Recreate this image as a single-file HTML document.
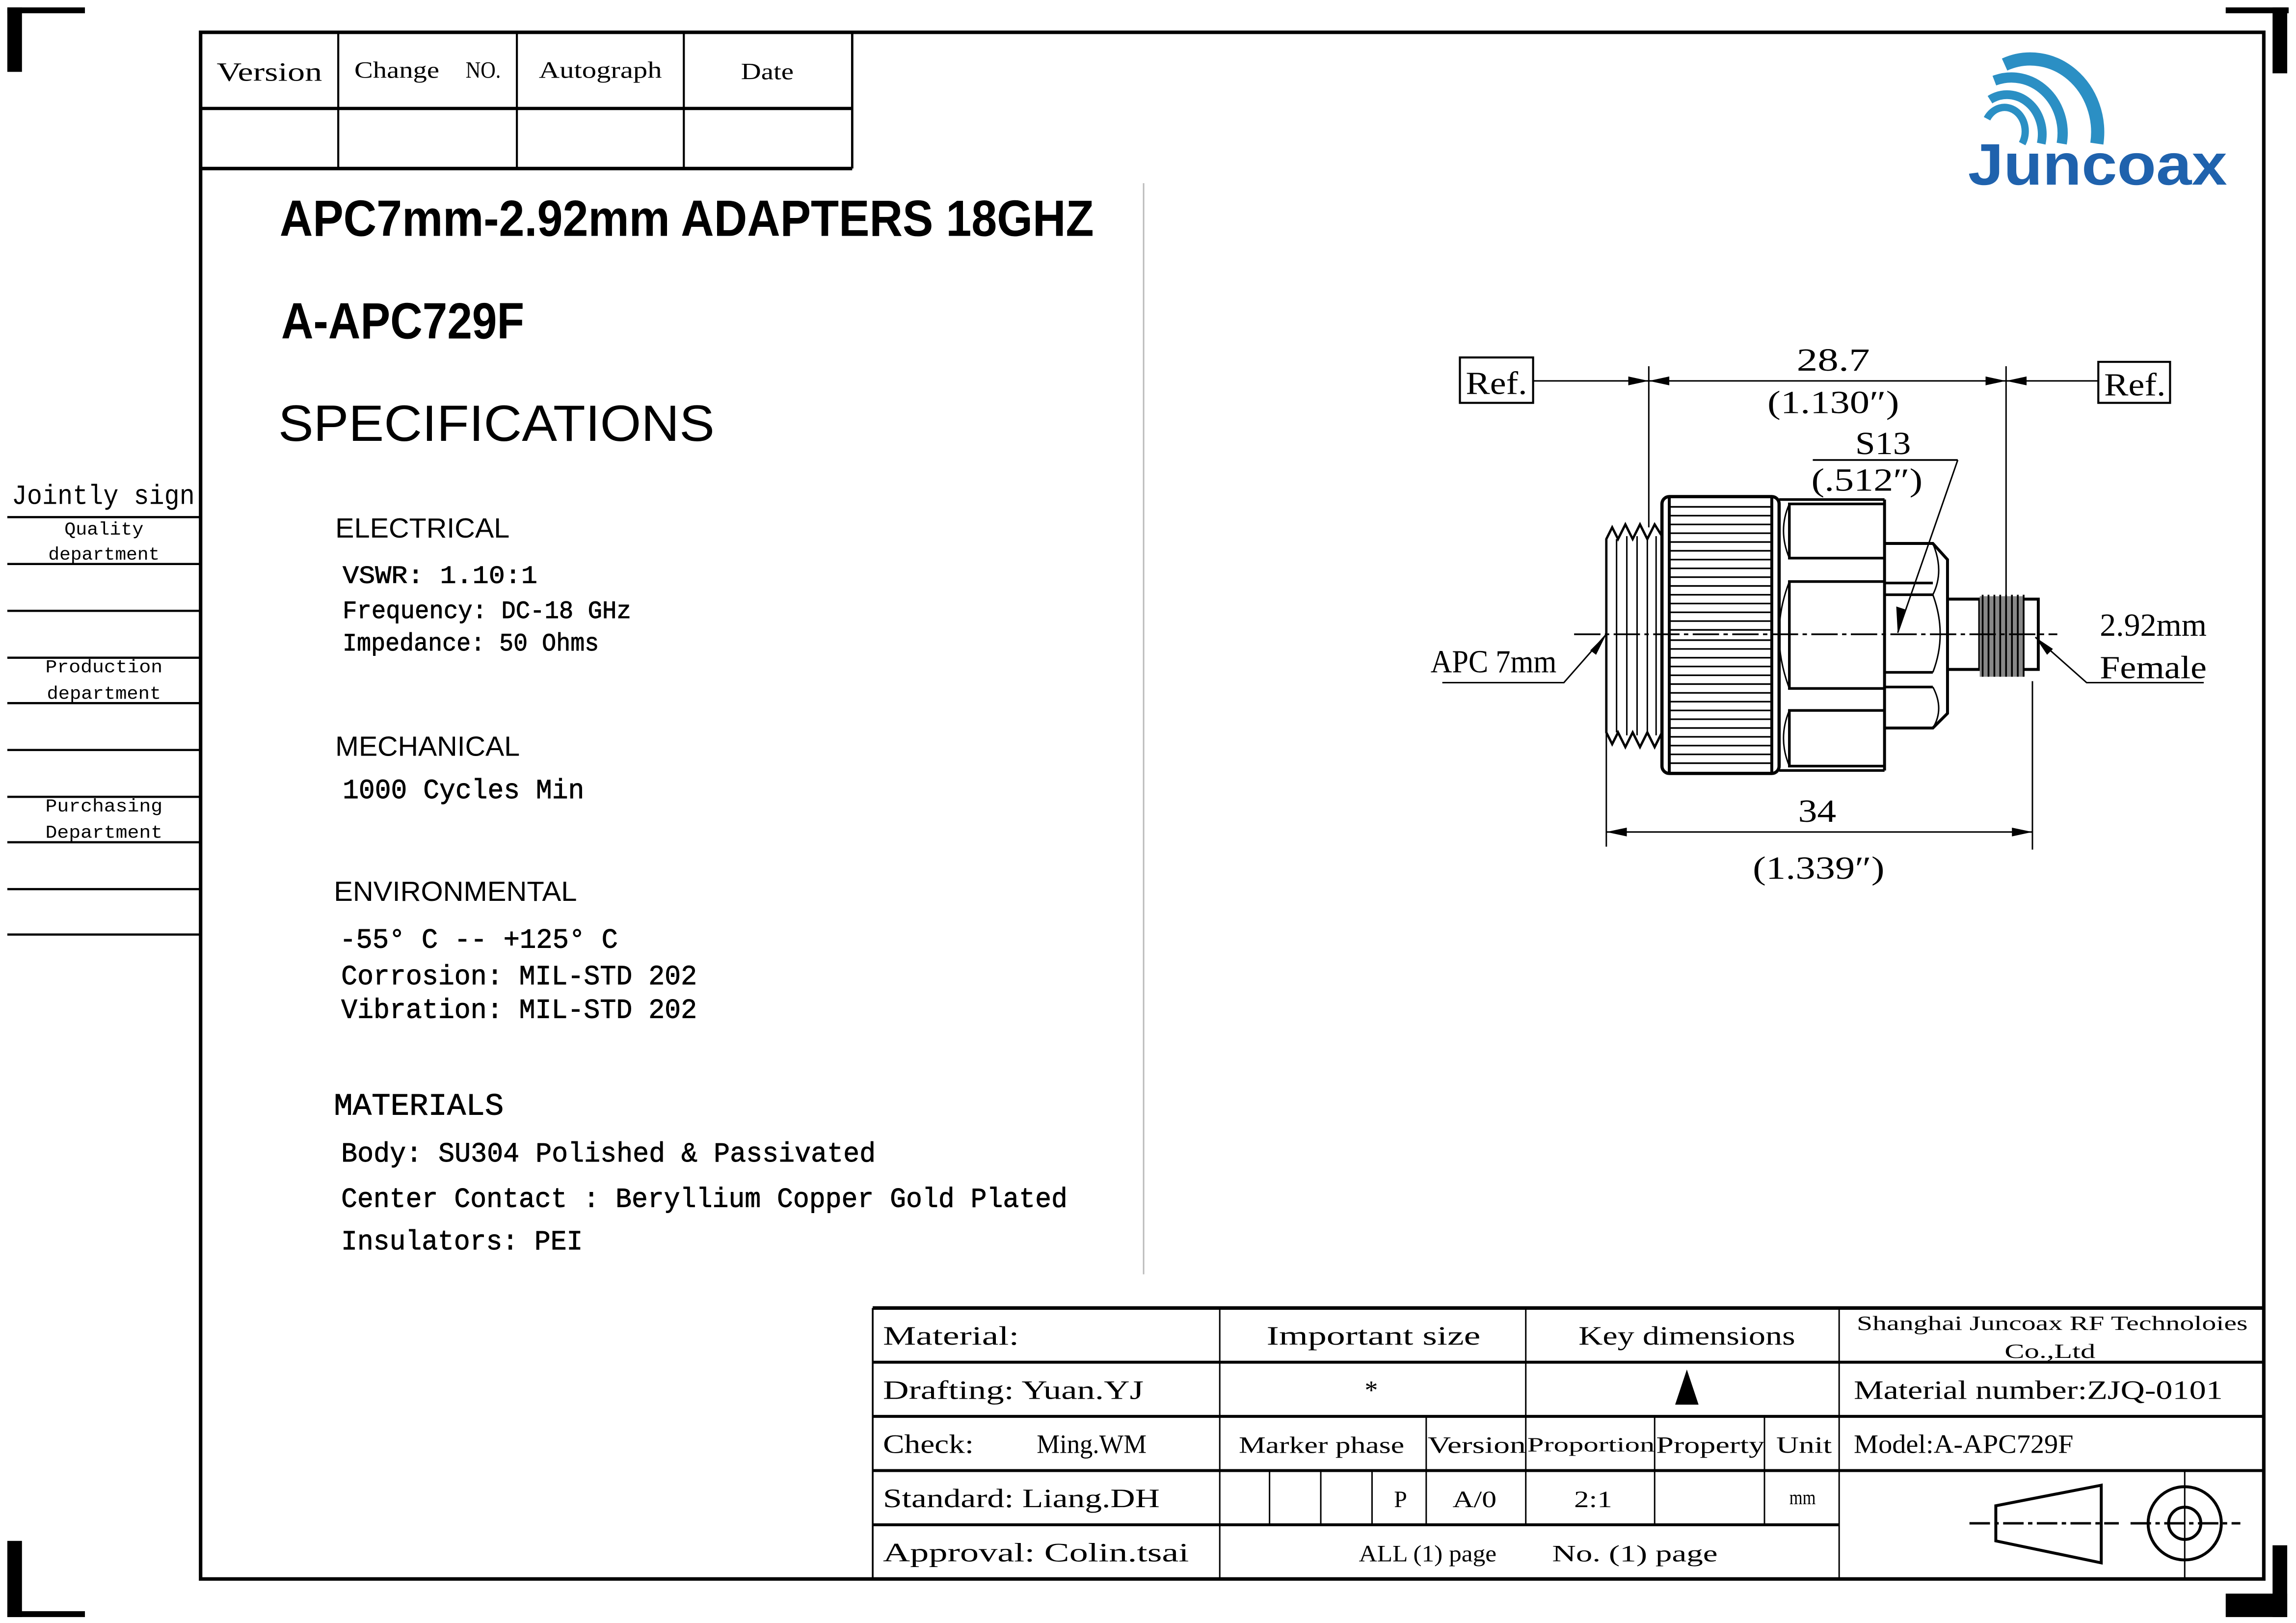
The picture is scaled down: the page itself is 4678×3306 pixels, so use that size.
<!DOCTYPE html>
<html><head><meta charset="utf-8"><style>
html,body{margin:0;padding:0;background:#fff;}
svg{display:block;}
.s{font-family:"Liberation Serif","Noto Serif CJK SC",serif;}
.m{font-family:"Liberation Mono","Noto Sans CJK SC",monospace;}
.a{font-family:"Liberation Sans","Noto Sans CJK SC",sans-serif;}
</style></head><body>
<svg width="4678" height="3306" viewBox="0 0 1568 1108" xmlns="http://www.w3.org/2000/svg">
<rect width="1568" height="1108" fill="#fff"/>
<g fill="#000">
<rect x="5" y="5" width="10" height="44"/><rect x="5" y="5" width="53" height="4"/>
<rect x="1520" y="5" width="43" height="4"/><rect x="1552" y="5" width="10" height="45"/>
<rect x="5" y="1052" width="10" height="52"/><rect x="5" y="1100" width="53" height="4"/>
<rect x="1552" y="1055" width="10" height="49"/><rect x="1520" y="1088" width="42" height="16"/>
</g>
<rect x="137" y="22" width="1409" height="1056" fill="none" stroke="#000" stroke-width="2.4"/>
<g stroke="#000" fill="none">
<line x1="137" y1="74" x2="582" y2="74" stroke-width="2.2"/>
<line x1="137" y1="115" x2="582" y2="115" stroke-width="2.4"/>
<line x1="582" y1="22" x2="582" y2="115" stroke-width="1.6"/>
<line x1="231" y1="22" x2="231" y2="115" stroke-width="1.4"/>
<line x1="353" y1="22" x2="353" y2="115" stroke-width="1.4"/>
<line x1="467" y1="22" x2="467" y2="115" stroke-width="1.4"/>
</g>
<g class="s" font-size="18" text-anchor="middle">
<text x="184" y="55" textLength="72" lengthAdjust="spacingAndGlyphs">Version</text>
<text x="271" y="53" textLength="58" lengthAdjust="spacingAndGlyphs" font-size="16">Change</text>
<text x="330" y="53" textLength="24" lengthAdjust="spacingAndGlyphs" font-size="16">NO.</text>
<text x="410" y="53" textLength="84" lengthAdjust="spacingAndGlyphs" font-size="16">Autograph</text>
<text x="524" y="54" textLength="36" lengthAdjust="spacingAndGlyphs" font-size="16">Date</text>
</g>
<text x="8" y="344" class="m" font-size="19" textLength="125" lengthAdjust="spacingAndGlyphs">Jointly sign</text>
<g stroke="#000" stroke-width="1.5">
<line x1="5" y1="353" x2="137" y2="353"/><line x1="5" y1="385" x2="137" y2="385"/>
<line x1="5" y1="417" x2="137" y2="417"/><line x1="5" y1="449" x2="137" y2="449"/>
<line x1="5" y1="480" x2="137" y2="480"/><line x1="5" y1="512" x2="137" y2="512"/>
<line x1="5" y1="544" x2="137" y2="544"/><line x1="5" y1="575" x2="137" y2="575"/>
<line x1="5" y1="607" x2="137" y2="607"/><line x1="5" y1="638" x2="137" y2="638"/>
</g>
<g class="m" font-size="12.5" text-anchor="middle">
<text x="71" y="365" textLength="54" lengthAdjust="spacingAndGlyphs">Quality</text>
<text x="71" y="382" textLength="76" lengthAdjust="spacingAndGlyphs">department</text>
<text x="71" y="459" textLength="80" lengthAdjust="spacingAndGlyphs">Production</text>
<text x="71" y="477" textLength="78" lengthAdjust="spacingAndGlyphs">department</text>
<text x="71" y="554" textLength="80" lengthAdjust="spacingAndGlyphs">Purchasing</text>
<text x="71" y="572" textLength="80" lengthAdjust="spacingAndGlyphs">Department</text>
</g>
<line x1="781" y1="125" x2="781" y2="870" stroke="#bbb" stroke-width="1"/>
<g class="a">
<text x="191" y="161" font-size="35" font-weight="bold" textLength="556" lengthAdjust="spacingAndGlyphs">APC7mm-2.92mm ADAPTERS  18GHZ</text>
<text x="192" y="231" font-size="35" font-weight="bold" textLength="166" lengthAdjust="spacingAndGlyphs">A-APC729F</text>
<text x="190" y="301" font-size="35" textLength="298" lengthAdjust="spacingAndGlyphs">SPECIFICATIONS</text>
<text x="229" y="367" font-size="19" textLength="119" lengthAdjust="spacingAndGlyphs">ELECTRICAL</text>
<text x="229" y="516" font-size="19" textLength="126" lengthAdjust="spacingAndGlyphs">MECHANICAL</text>
<text x="228" y="615" font-size="19" textLength="166" lengthAdjust="spacingAndGlyphs">ENVIRONMENTAL</text>
</g>
<g class="m" font-size="17" stroke="#000" stroke-width="0.3">
<text x="234" y="398" textLength="133" lengthAdjust="spacingAndGlyphs">VSWR:  1.10:1</text>
<text x="234" y="422" textLength="197" lengthAdjust="spacingAndGlyphs">Frequency: DC-18 GHz</text>
<text x="234" y="444" textLength="175" lengthAdjust="spacingAndGlyphs">Impedance: 50 Ohms</text>
<text x="234" y="545" font-size="19" textLength="165" lengthAdjust="spacingAndGlyphs">1000 Cycles Min</text>
<text x="232" y="647" font-size="19" textLength="190" lengthAdjust="spacingAndGlyphs">-55° C -- +125° C</text>
<text x="233" y="672" font-size="19" textLength="243" lengthAdjust="spacingAndGlyphs">Corrosion: MIL-STD 202</text>
<text x="233" y="695" font-size="19" textLength="243" lengthAdjust="spacingAndGlyphs">Vibration: MIL-STD 202</text>
<text x="228" y="761" font-size="21" textLength="116" lengthAdjust="spacingAndGlyphs">MATERIALS</text>
<text x="233" y="793" font-size="19" textLength="365" lengthAdjust="spacingAndGlyphs">Body: SU304 Polished &amp; Passivated</text>
<text x="233" y="824" font-size="19" textLength="496" lengthAdjust="spacingAndGlyphs">Center Contact : Beryllium Copper Gold Plated</text>
<text x="233" y="853" font-size="19" textLength="165" lengthAdjust="spacingAndGlyphs">Insulators: PEI</text>
</g>
<g fill="none" stroke="#2b8fc4" stroke-linecap="butt">
<path d="M1357 81 A13 15 0 0 1 1381 98" stroke-width="5"/>
<path d="M1359 68 A24 27 0 0 1 1394 98" stroke-width="6"/>
<path d="M1362 55 A35 38 0 0 1 1408 98" stroke-width="7"/>
<path d="M1369 44 A46 50 0 0 1 1432 98" stroke-width="9"/>
</g>
<text x="1344" y="126" class="a" font-weight="bold" font-size="40" fill="#1f62ad" textLength="177" lengthAdjust="spacingAndGlyphs">Juncoax</text>
<g stroke="#000" fill="none">
<rect x="997" y="244" width="50" height="31" stroke-width="1.4"/>
<rect x="1433" y="247" width="49" height="28" stroke-width="1.4"/>
<line x1="1047" y1="260" x2="1433" y2="260" stroke-width="1"/>
<line x1="1126" y1="250" x2="1126" y2="360" stroke-width="1"/>
<line x1="1370" y1="250" x2="1370" y2="410" stroke-width="1"/>
<line x1="1238" y1="314" x2="1337" y2="314" stroke-width="1.2"/>
<line x1="1337" y1="314" x2="1296" y2="432" stroke-width="1"/>
<line x1="1097" y1="500" x2="1097" y2="578" stroke-width="1"/>
<line x1="1388" y1="465" x2="1388" y2="580" stroke-width="1"/>
<line x1="1097" y1="568" x2="1388" y2="568" stroke-width="1"/>
<path d="M1097 368 L1101 360 L1105 368 L1110 358 L1115 368 L1120 358 L1125 368 L1130 358 L1135 366 L1135 500 L1130 510 L1125 500 L1120 510 L1115 500 L1110 510 L1105 500 L1101 508 L1097 500 Z" stroke-width="1.6"/>
<line x1="1104" y1="368" x2="1104" y2="500" stroke-width="1"/>
<line x1="1111" y1="366" x2="1111" y2="502" stroke-width="1"/>
<line x1="1118" y1="366" x2="1118" y2="502" stroke-width="1"/>
<line x1="1125" y1="366" x2="1125" y2="502" stroke-width="1"/>
<line x1="1131" y1="366" x2="1131" y2="502" stroke-width="1"/>
<rect x="1135" y="339" width="80" height="189" rx="5" stroke-width="2.2"/>
<line x1="1140" y1="340" x2="1140" y2="527" stroke-width="2"/>
<line x1="1210" y1="340" x2="1210" y2="527" stroke-width="2"/>
</g>
<g stroke="#000" stroke-width="1.1">
<line x1="1140" y1="346" x2="1210" y2="346"/><line x1="1140" y1="352" x2="1210" y2="352"/><line x1="1140" y1="358" x2="1210" y2="358"/><line x1="1140" y1="364" x2="1210" y2="364"/><line x1="1140" y1="370" x2="1210" y2="370"/><line x1="1140" y1="376" x2="1210" y2="376"/><line x1="1140" y1="382" x2="1210" y2="382"/><line x1="1140" y1="388" x2="1210" y2="388"/><line x1="1140" y1="394" x2="1210" y2="394"/><line x1="1140" y1="400" x2="1210" y2="400"/><line x1="1140" y1="406" x2="1210" y2="406"/><line x1="1140" y1="412" x2="1210" y2="412"/><line x1="1140" y1="418" x2="1210" y2="418"/><line x1="1140" y1="424" x2="1210" y2="424"/><line x1="1140" y1="430" x2="1210" y2="430"/><line x1="1140" y1="437" x2="1210" y2="437"/><line x1="1140" y1="443" x2="1210" y2="443"/><line x1="1140" y1="449" x2="1210" y2="449"/><line x1="1140" y1="455" x2="1210" y2="455"/><line x1="1140" y1="461" x2="1210" y2="461"/><line x1="1140" y1="467" x2="1210" y2="467"/><line x1="1140" y1="473" x2="1210" y2="473"/><line x1="1140" y1="479" x2="1210" y2="479"/><line x1="1140" y1="485" x2="1210" y2="485"/><line x1="1140" y1="491" x2="1210" y2="491"/><line x1="1140" y1="497" x2="1210" y2="497"/><line x1="1140" y1="503" x2="1210" y2="503"/><line x1="1140" y1="509" x2="1210" y2="509"/><line x1="1140" y1="515" x2="1210" y2="515"/><line x1="1140" y1="521" x2="1210" y2="521"/>
</g>
<g stroke="#000" fill="none" stroke-width="1.8">
<line x1="1215" y1="341" x2="1287" y2="341"/><line x1="1215" y1="526" x2="1287" y2="526"/>
<rect x="1222" y="344" width="65" height="37"/>
<rect x="1222" y="397" width="65" height="73"/>
<rect x="1222" y="485" width="65" height="38"/>
<path d="M1222 344 Q1214 362 1222 381" stroke-width="1"/>
<path d="M1222 397 Q1208 433 1222 470" stroke-width="1"/>
<path d="M1222 485 Q1214 504 1222 523" stroke-width="1"/>
<line x1="1287" y1="341" x2="1287" y2="526" stroke-width="2"/>
<path d="M1287 371 L1320 371 L1330 382 L1330 487 L1320 497 L1287 497" stroke-width="2"/>
<line x1="1287" y1="398" x2="1320" y2="398"/><line x1="1287" y1="406" x2="1320" y2="406"/>
<line x1="1287" y1="459" x2="1320" y2="459"/><line x1="1287" y1="469" x2="1320" y2="469"/>
<path d="M1320 371 Q1328 390 1320 406 M1320 406 Q1330 433 1320 459 M1320 469 Q1328 484 1320 497" stroke-width="1"/>
<path d="M1330 409 L1352 409 M1330 457 L1352 457" stroke-width="2"/>
<rect x="1352" y="409" width="40" height="48" stroke-width="2"/>
</g>
<rect x="1352" y="407" width="30" height="55" fill="#888"/>
<g stroke="#000" stroke-width="1.2">
<line x1="1354" y1="406" x2="1354" y2="462"/><line x1="1358" y1="406" x2="1358" y2="462"/><line x1="1362" y1="406" x2="1362" y2="462"/><line x1="1366" y1="406" x2="1366" y2="462"/><line x1="1370" y1="406" x2="1370" y2="462"/><line x1="1374" y1="406" x2="1374" y2="462"/><line x1="1378" y1="406" x2="1378" y2="462"/><line x1="1382" y1="406" x2="1382" y2="462"/>
</g>
<line x1="1075" y1="433" x2="1405" y2="433" stroke="#000" stroke-width="1.2" stroke-dasharray="18 3 3 3"/>
<g stroke="#000" fill="none" stroke-width="1">
<path d="M985 466 L1068 466 L1097 433"/>
<path d="M1505 466 L1425 466 L1390 435"/>
</g>
<g fill="#000">
<polygon points="1126,260 1112,257 1112,263"/>
<polygon points="1126,260 1140,257 1140,263"/>
<polygon points="1370,260 1356,257 1356,263"/>
<polygon points="1370,260 1384,257 1384,263"/>
<polygon points="1097,568 1111,565 1111,571"/>
<polygon points="1388,568 1374,565 1374,571"/>
<polygon points="1296,432 1295,414 1301,416"/>
<polygon points="1097,433 1086,444 1090,447"/>
<polygon points="1390,435 1398,447 1402,443"/>
</g>
<g class="s" font-size="22">
<text x="1001" y="269" textLength="42" lengthAdjust="spacingAndGlyphs">Ref.</text>
<text x="1437" y="270" textLength="42" lengthAdjust="spacingAndGlyphs">Ref.</text>
<text x="1227" y="253" textLength="50" lengthAdjust="spacingAndGlyphs">28.7</text>
<text x="1207" y="282" textLength="90" lengthAdjust="spacingAndGlyphs">(1.130″)</text>
<text x="1267" y="310" textLength="38" lengthAdjust="spacingAndGlyphs">S13</text>
<text x="1237" y="335" textLength="76" lengthAdjust="spacingAndGlyphs">(.512″)</text>
<text x="977" y="459" textLength="86" lengthAdjust="spacingAndGlyphs">APC 7mm</text>
<text x="1434" y="434" textLength="73" lengthAdjust="spacingAndGlyphs">2.92mm</text>
<text x="1434" y="463" textLength="73" lengthAdjust="spacingAndGlyphs">Female</text>
<text x="1228" y="561" textLength="26" lengthAdjust="spacingAndGlyphs">34</text>
<text x="1197" y="600" textLength="90" lengthAdjust="spacingAndGlyphs">(1.339″)</text>
</g>
<g stroke="#000" fill="none">
<line x1="596" y1="893" x2="1546" y2="893" stroke-width="2.4"/>
<line x1="596" y1="930" x2="1546" y2="930" stroke-width="2"/>
<line x1="596" y1="967" x2="1546" y2="967" stroke-width="2"/>
<line x1="596" y1="1004" x2="1546" y2="1004" stroke-width="2"/>
<line x1="596" y1="1041" x2="1256" y2="1041" stroke-width="2"/>
<line x1="596" y1="893" x2="596" y2="1078" stroke-width="1.2"/>
<line x1="833" y1="893" x2="833" y2="1078" stroke-width="1"/>
<line x1="1042" y1="893" x2="1042" y2="1041" stroke-width="1"/>
<line x1="1256" y1="893" x2="1256" y2="1078" stroke-width="1"/>
<line x1="974" y1="967" x2="974" y2="1041" stroke-width="1"/>
<line x1="1130" y1="967" x2="1130" y2="1041" stroke-width="1"/>
<line x1="1205" y1="967" x2="1205" y2="1041" stroke-width="1"/>
<line x1="867" y1="1004" x2="867" y2="1041" stroke-width="1"/>
<line x1="902" y1="1004" x2="902" y2="1041" stroke-width="1"/>
<line x1="937" y1="1004" x2="937" y2="1041" stroke-width="1"/>
</g>
<g class="s" font-size="18">
<text x="603" y="918" textLength="93" lengthAdjust="spacingAndGlyphs">Material:</text>
<text x="603" y="955" textLength="178" lengthAdjust="spacingAndGlyphs">Drafting: Yuan.YJ</text>
<text x="603" y="992" textLength="62" lengthAdjust="spacingAndGlyphs">Check:</text>
<text x="708" y="992" textLength="75" lengthAdjust="spacingAndGlyphs">Ming.WM</text>
<text x="603" y="1029" textLength="189" lengthAdjust="spacingAndGlyphs">Standard: Liang.DH</text>
<text x="603" y="1066" textLength="209" lengthAdjust="spacingAndGlyphs">Approval: Colin.tsai</text>
<text x="865" y="918" textLength="146" lengthAdjust="spacingAndGlyphs">Important size</text>
<text x="1078" y="918" textLength="148" lengthAdjust="spacingAndGlyphs">Key dimensions</text>
<text x="1268" y="908" font-size="14" textLength="267" lengthAdjust="spacingAndGlyphs">Shanghai Juncoax RF Technoloies</text>
<text x="1369" y="927" font-size="14" textLength="62" lengthAdjust="spacingAndGlyphs">Co.,Ltd</text>
<text x="932" y="955">*</text>
<text x="1266" y="955" textLength="252" lengthAdjust="spacingAndGlyphs">Material number:ZJQ-0101</text>
<text x="846" y="992" font-size="16" textLength="113" lengthAdjust="spacingAndGlyphs">Marker phase</text>
<text x="975" y="992" font-size="16" textLength="67" lengthAdjust="spacingAndGlyphs">Version</text>
<text x="1043" y="991" font-size="14" textLength="87" lengthAdjust="spacingAndGlyphs">Proportion</text>
<text x="1131" y="992" font-size="16" textLength="74" lengthAdjust="spacingAndGlyphs">Property</text>
<text x="1213" y="992" font-size="16" textLength="38" lengthAdjust="spacingAndGlyphs">Unit</text>
<text x="1266" y="992" textLength="150" lengthAdjust="spacingAndGlyphs">Model:A-APC729F</text>
<text x="952" y="1029" font-size="16">P</text>
<text x="992" y="1029" font-size="16" textLength="30" lengthAdjust="spacingAndGlyphs">A/0</text>
<text x="1075" y="1029" font-size="16" textLength="26" lengthAdjust="spacingAndGlyphs">2:1</text>
<text x="1222" y="1027" font-size="14" textLength="18" lengthAdjust="spacingAndGlyphs">mm</text>
<text x="928" y="1066" font-size="16" textLength="94" lengthAdjust="spacingAndGlyphs">ALL (1) page</text>
<text x="1060" y="1066" font-size="16" textLength="113" lengthAdjust="spacingAndGlyphs">No. (1) page</text>
</g>
<polygon points="1152,935 1144,959 1160,959" fill="#000"/>
<g stroke="#000" fill="none">
<path d="M1435 1014 L1363 1028 L1363 1052 L1435 1067 Z" stroke-width="2"/>
<circle cx="1492" cy="1040" r="25" stroke-width="2"/>
<circle cx="1492" cy="1040" r="11" stroke-width="2"/>
<line x1="1345" y1="1040" x2="1447" y2="1040" stroke-width="1.6" stroke-dasharray="14 3 3 3"/>
<line x1="1455" y1="1040" x2="1530" y2="1040" stroke-width="1.6" stroke-dasharray="14 3 3 3"/>
<line x1="1492" y1="1003" x2="1492" y2="1078" stroke-width="1"/>
</g>
</svg>
</body></html>
